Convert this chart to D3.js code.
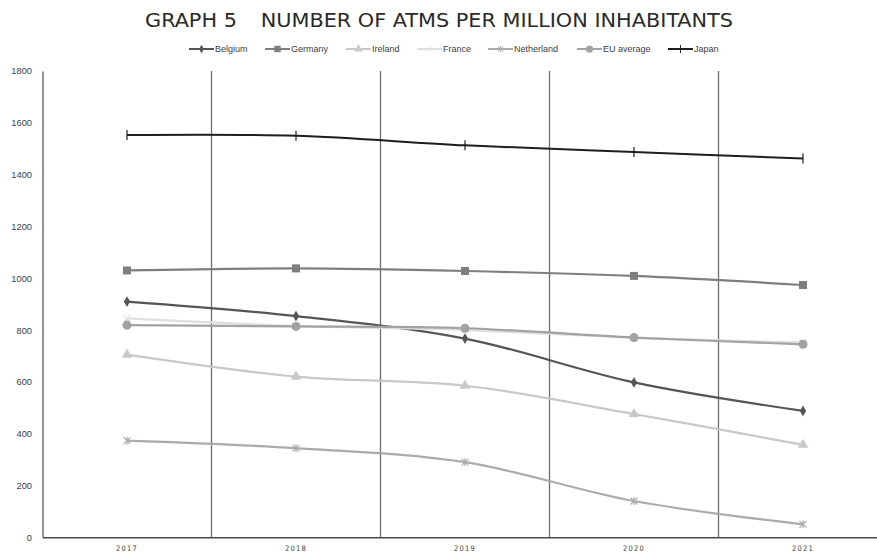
<!DOCTYPE html>
<html>
<head>
<meta charset="utf-8">
<script src="https://cdn.jsdelivr.net/npm/d3@7/dist/d3.min.js"></script>
<style>
  html, body { margin: 0; padding: 0; background: #fff; }
  svg { display: block; }
</style>
</head>
<body>
<svg id="chart" width="877" height="553"></svg>
<script>
// Years on the category axis
const years = ["2017", "2018", "2019", "2020", "2021"];

// ATMs per million inhabitants, one array per country
const belgium    = [910, 854, 767, 598, 488];
const germany    = [1030, 1038, 1028, 1009, 974];
const ireland    = [705, 620, 585, 476, 357];
const france     = [845, 816, 800, 770, 752];
const netherland = [373, 344, 290, 140, 50];
const euAverage  = [819, 814, 807, 771, 745];
const japan      = [1553, 1550, 1513, 1487, 1462];

const yTicks = [0, 200, 400, 600, 800, 1000, 1200, 1400, 1600, 1800];

const seriesNames = ["Belgium", "Germany", "Ireland", "France", "Netherland", "EU average", "Japan"];
const seriesValues = [belgium, germany, ireland, france, netherland, euAverage, japan];
const seriesColors = ["#555555", "#7f7f7f", "#c8c8c8", "#dedede", "#ababab", "#a2a2a2", "#1e1e1e"];
const seriesMarkers = ["diamond", "square", "triangle", "x", "asterisk", "circle", "plus"];

const series = seriesNames.map((name, i) => ({
  name, color: seriesColors[i], marker: seriesMarkers[i],
  points: years.map((yr, j) => ({ year: yr, value: seriesValues[i][j] }))
}));

const svg = d3.select("#chart");
const plotTop = 71, plotBottom = 537.3, plotLeft = 42.5, step = 169;

const x = d3.scaleBand().domain(years).range([plotLeft, plotLeft + step * years.length]).padding(0);
const y = d3.scaleLinear().domain([0, 1800]).range([plotBottom, plotTop]);
const cx = d => x(d) + x.bandwidth() / 2;

// Title
svg.append("text")
  .attr("x", 439).attr("y", 27)
  .attr("text-anchor", "middle")
  .attr("font-family", "Liberation Sans Narrow, DejaVu Sans Condensed, sans-serif")
  .attr("font-size", 19.5)
  .attr("fill", "#2a2a2a")
  .attr("textLength", 588)
  .attr("lengthAdjust", "spacingAndGlyphs")
  .text("GRAPH 5\u3000NUMBER OF ATMS PER MILLION INHABITANTS");

// Vertical separators between year categories
svg.append("g")
  .selectAll("line")
  .data(years.slice(1))
  .join("line")
  .attr("x1", d => x(d)).attr("x2", d => x(d))
  .attr("y1", plotTop).attr("y2", plotBottom)
  .attr("stroke", "#6e6e6e").attr("stroke-width", 1.3);

// Y axis (labels only, plus the axis line)
const yAxis = d3.axisLeft(y).tickValues(yTicks).tickSize(0).tickPadding(10.5).tickFormat(d3.format("d"));
const gy = svg.append("g").attr("transform", `translate(${plotLeft},0)`).call(yAxis);
gy.select(".domain").attr("stroke", "#5a5a5a").attr("stroke-width", 1.3);
gy.selectAll("text")
  .attr("font-family", "Liberation Sans, Arial, sans-serif")
  .attr("font-size", 9.3)
  .attr("fill", "#404040");

// X axis
const xAxis = d3.axisBottom(x).tickSize(0).tickPadding(8);
const gx = svg.append("g").attr("transform", `translate(0,${plotBottom})`).call(xAxis);
gx.select(".domain").attr("stroke", "#4a4a4a").attr("stroke-width", 1.6);
gx.selectAll("text")
  .attr("font-family", "DejaVu Sans Condensed, DejaVu Sans, sans-serif")
  .attr("font-size", 7.5)
  .attr("letter-spacing", 1.2)
  .attr("fill", "#404040");

// Marker symbol paths
function markerPath(kind) {
  switch (kind) {
    case "diamond":  return d3.symbol(d3.symbolDiamond, 34)();
    case "square":   return d3.symbol(d3.symbolSquare, 64)();
    case "triangle": return d3.symbol(d3.symbolTriangle, 48)();
    case "circle":   return d3.symbol(d3.symbolCircle, 64)();
    case "x":        return "M-3.5,-3.5L3.5,3.5M-3.5,3.5L3.5,-3.5";
    case "asterisk": return "M-3.5,-3.5L3.5,3.5M-3.5,3.5L3.5,-3.5M0,-4L0,4";
    case "plus":     return "M0,-5L0,5";
  }
}
const strokeOnly = k => k === "x" || k === "asterisk" || k === "plus";

const line = d3.line()
  .x(d => cx(d.year))
  .y(d => y(d.value))
  .curve(d3.curveCatmullRom.alpha(0.5));

const gSeries = svg.append("g").selectAll("g").data(series).join("g");
gSeries.append("path")
  .attr("d", s => line(s.points))
  .attr("fill", "none")
  .attr("stroke", s => s.color)
  .attr("stroke-width", s => s.name === "Japan" ? 2 : 2.2);
gSeries.each(function (s) {
  d3.select(this).selectAll("path.m")
    .data(s.points)
    .join("path")
    .attr("class", "m")
    .attr("transform", d => `translate(${cx(d.year)},${y(d.value)})`)
    .attr("d", markerPath(s.marker))
    .attr("fill", strokeOnly(s.marker) ? "none" : s.color)
    .attr("stroke", s.color)
    .attr("stroke-width", strokeOnly(s.marker) ? 1.2 : 0);
});

// Legend
const legend = svg.append("g").attr("transform", "translate(0,49)");
const legendStarts = [189, 265, 346, 417, 488, 577, 668];
series.forEach((s, i) => {
  const g = legend.append("g").attr("transform", `translate(${legendStarts[i]},0)`);
  g.append("line").attr("x1", 0).attr("x2", 25).attr("y1", 0).attr("y2", 0)
    .attr("stroke", s.color).attr("stroke-width", 2);
  g.append("path")
    .attr("transform", "translate(12.5,0) scale(0.8)")
    .attr("d", markerPath(s.marker))
    .attr("fill", strokeOnly(s.marker) ? "none" : s.color)
    .attr("stroke", s.color)
    .attr("stroke-width", strokeOnly(s.marker) ? 1.2 : 0);
  g.append("text")
    .attr("x", 26).attr("y", 3.2)
    .attr("font-family", "Liberation Sans, Arial, sans-serif")
    .attr("font-size", 9)
    .attr("fill", "#404040")
    .text(s.name);
});
</script>
</body>
</html>
